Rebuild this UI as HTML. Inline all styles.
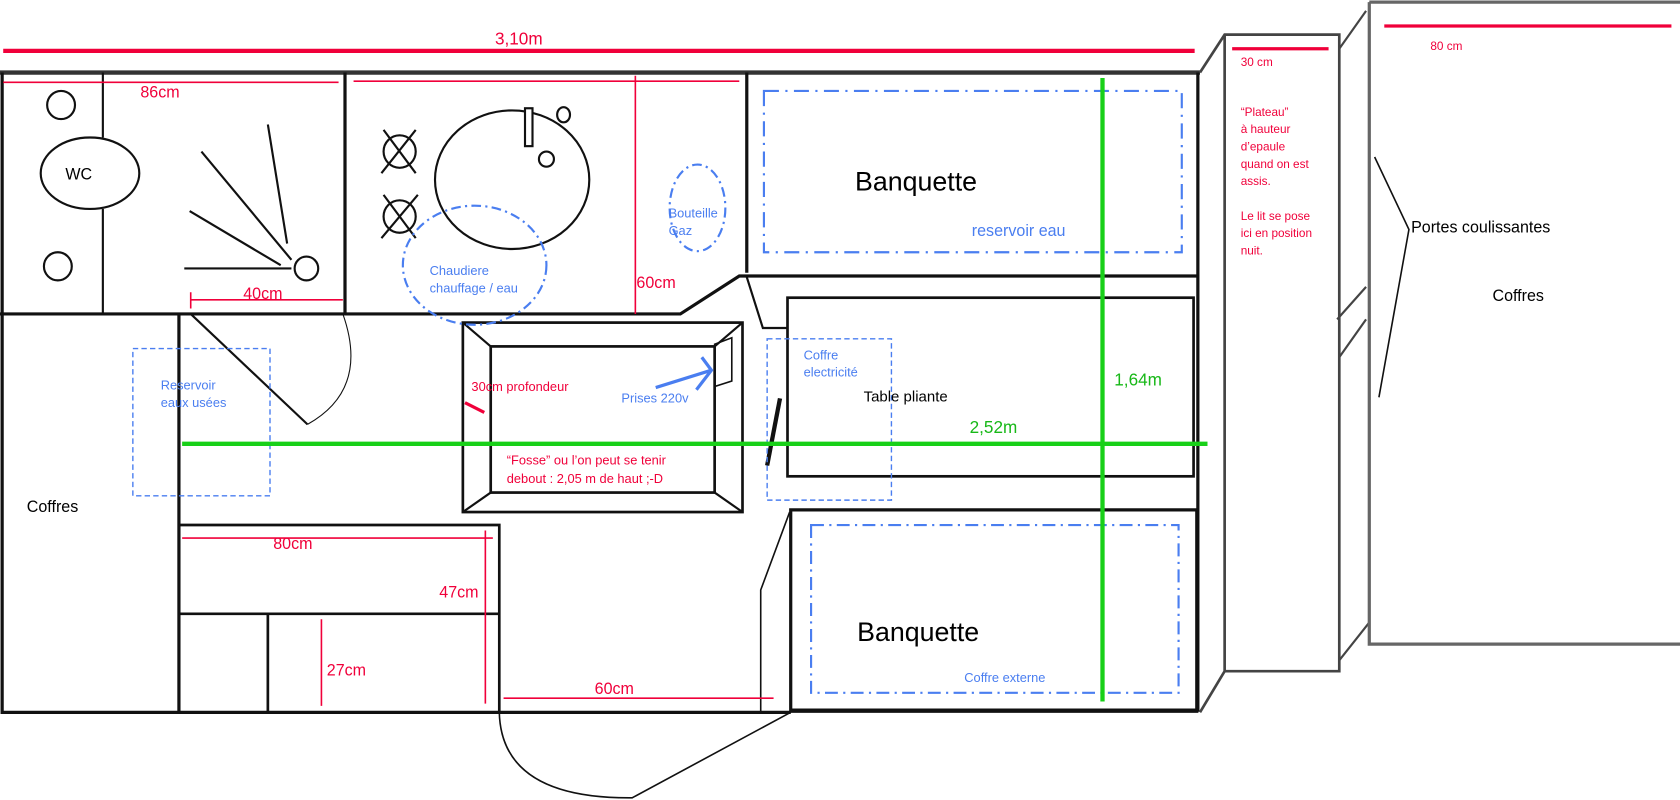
<!DOCTYPE html>
<html><head><meta charset="utf-8"><style>
html,body{margin:0;padding:0;background:#fff;width:1680px;height:800px;overflow:hidden}
svg{display:block}
text{font-family:"Liberation Sans",sans-serif}
.r{fill:#f0003a}.b{fill:#4a7ef0}.g{fill:#18b818}
</style></head><body>
<svg width="1680" height="800" viewBox="0 0 1568 739" preserveAspectRatio="none" xmlns="http://www.w3.org/2000/svg">
<g fill="none" stroke="#111" stroke-width="2">
<!-- outer walls -->
<path d="M0 67 H1120" stroke-width="4" stroke="#333"/>
<path d="M2 67 V658 H738" stroke-width="3"/>
<path d="M738 656 H1118 V67" stroke-width="3"/>
<!-- WC room -->
<path d="M322 67 V290 M0 290 H635 L690 255 H1118" stroke-width="3"/>
<path d="M96 67 V127 M96 193 V290"/>
<ellipse cx="84" cy="160" rx="46" ry="33"/>
<circle cx="57" cy="97" r="13"/><circle cx="54" cy="246" r="13"/>
<path d="M188 140 L272 240 M250 115 L268 225 M177 195 L262 245 M172 248 L272 248"/>
<circle cx="286" cy="248" r="11"/>
<!-- kitchen -->
<circle cx="373" cy="140" r="15"/><circle cx="373" cy="200" r="15"/>
<path d="M358 120 L388 160 M388 120 L356 160 M358 180 L388 220 M390 180 L356 220"/>
<ellipse cx="478" cy="166" rx="72" ry="64"/>
<rect x="490" y="100" width="7" height="35" fill="#fff"/>
<ellipse cx="526" cy="106" rx="6" ry="7"/><circle cx="510" cy="147" r="7"/>
<!-- banquette top -->
<path d="M697 67 V252" stroke-width="3"/>
<!-- table -->
<path d="M697 256 L712 303 H735"/>
<rect x="735" y="275" width="379" height="165" stroke-width="2.5"/>
<path d="M728 368 L716 430" stroke-width="4"/>
<!-- fosse -->
<rect x="432" y="298" width="261" height="175" stroke-width="2.5"/>
<rect x="458" y="320" width="209" height="135" stroke-width="2.5"/>
<path d="M432 298 L458 320 M693 298 L667 320 M432 473 L458 455 M693 473 L667 455"/>
<path d="M667 318 L683 312 V352 L667 357 Z" stroke-width="1.5"/>
<!-- banquette bottom -->
<rect x="738" y="471" width="379" height="186" stroke-width="3"/>
<path d="M737 473 L710 545 V658" stroke-width="1.5"/>
<!-- door bottom -->
<path d="M466 658 Q468 738 590 737 L738 658" stroke-width="1.5"/>
<!-- bottom-left cabinet -->
<path d="M167 290 V658" stroke-width="3"/>
<path d="M168 485 H466 V658 M168 567 H466 M250 567 V658" stroke-width="2.5"/>
<!-- door left -->
<path d="M178 290 L287 392" stroke-width="2"/>
<path d="M287 392 Q345 360 320 290" stroke-width="1"/>
<!-- right panels -->
<path d="M1120 67 L1143 32 H1250 V620 H1143 V32 M1120 658 L1143 620" stroke-width="2.5" stroke="#444"/>
<path d="M1250 45 L1275 10 M1248 295 L1275 265 M1250 330 L1275 295 M1250 610 L1278 575" stroke="#444"/>
<path d="M1278 2 H1568 M1278 2 V595 H1568" stroke-width="3" stroke="#666"/>
<path d="M1283 145 L1315 212 L1287 367" stroke-width="1.5"/>
</g>
<!-- red dims -->
<g stroke="#f0003a" fill="none">
<path d="M3 47 H1115" stroke-width="4"/>
<path d="M3 76 H316 M330 75 H690 M593 70 V290 M178 277 H320 M178 270 V285 M470 645 H722 M170 497 H460 M453 490 V650 M300 572 V652" stroke-width="1.5"/>
<path d="M1150 45 H1240 M1292 24 H1560" stroke-width="3"/>
<path d="M434 372 L452 381" stroke-width="3"/>
</g>
<!-- blue dashed -->
<g stroke="#4a7ef0" fill="none" stroke-width="2" stroke-dasharray="9 4 2 4">
<ellipse cx="443" cy="245" rx="67" ry="55"/>
<ellipse cx="651" cy="192" rx="26" ry="40"/>
<rect x="713" y="84" width="390" height="149" stroke-dasharray="14 6 2 6"/>
<rect x="757" y="485" width="343" height="155" stroke-dasharray="12 5 2 5"/>
<rect x="124" y="322" width="128" height="136" stroke-width="1.3" stroke-dasharray="5 3"/>
<rect x="716" y="313" width="116" height="149" stroke-width="1.3" stroke-dasharray="5 3"/>
</g>
<path d="M612 358 L664 342 M655 330 L664 342 L650 360" stroke="#4a7ef0" stroke-width="3" fill="none"/>
<!-- green -->
<path d="M1029 72 V648 M170 410 H1127" stroke="#18d018" stroke-width="4"/>
<!-- text -->
<text x="462" y="41" class="r" font-size="16">3,10m</text>
<text x="131" y="90" class="r" font-size="15">86cm</text>
<text x="227" y="276" class="r" font-size="15">40cm</text>
<text x="594" y="266" class="r" font-size="15">60cm</text>
<text x="255" y="507" class="r" font-size="15">80cm</text>
<text x="410" y="552" class="r" font-size="15">47cm</text>
<text x="305" y="624" class="r" font-size="15">27cm</text>
<text x="555" y="641" class="r" font-size="15">60cm</text>
<text x="440" y="361" class="r" font-size="12">30cm profondeur</text>
<text x="473" y="429" class="r" font-size="12">“Fosse” ou l’on peut se tenir</text>
<text x="473" y="446" class="r" font-size="12">debout : 2,05 m de haut  ;-D</text>
<text x="1158" y="61" class="r" font-size="11">30 cm</text>
<text x="1335" y="46" class="r" font-size="11">80 cm</text>
<g class="r" font-size="11">
<text x="1158" y="107">“Plateau”</text><text x="1158" y="123">à hauteur</text><text x="1158" y="139">d’epaule</text><text x="1158" y="155">quand on est</text><text x="1158" y="171">assis.</text>
<text x="1158" y="203">Le lit se pose</text><text x="1158" y="219">ici en position</text><text x="1158" y="235">nuit.</text>
</g>
<text x="61" y="166" font-size="15">WC</text>
<text x="798" y="176" font-size="25">Banquette</text>
<text x="800" y="592" font-size="25">Banquette</text>
<text x="806" y="371" font-size="14">Table pliante</text>
<text x="25" y="473" font-size="15">Coffres</text>
<text x="1393" y="278" font-size="15">Coffres</text>
<text x="1317" y="215" font-size="15">Portes coulissantes</text>
<text x="907" y="218" class="b" font-size="15">reservoir eau</text>
<text x="900" y="630" class="b" font-size="12">Coffre externe</text>
<text x="401" y="254" class="b" font-size="12">Chaudiere</text>
<text x="401" y="270" class="b" font-size="12">chauffage / eau</text>
<text x="624" y="201" class="b" font-size="12">Bouteille</text>
<text x="624" y="217" class="b" font-size="12">Gaz</text>
<text x="150" y="360" class="b" font-size="12">Reservoir</text>
<text x="150" y="376" class="b" font-size="12">eaux usées</text>
<text x="750" y="332" class="b" font-size="12">Coffre</text>
<text x="750" y="348" class="b" font-size="12">electricité</text>
<text x="580" y="372" class="b" font-size="12">Prises 220v</text>
<text x="1040" y="356" class="g" font-size="16">1,64m</text>
<text x="905" y="400" class="g" font-size="16">2,52m</text>
</svg>
</body></html>
